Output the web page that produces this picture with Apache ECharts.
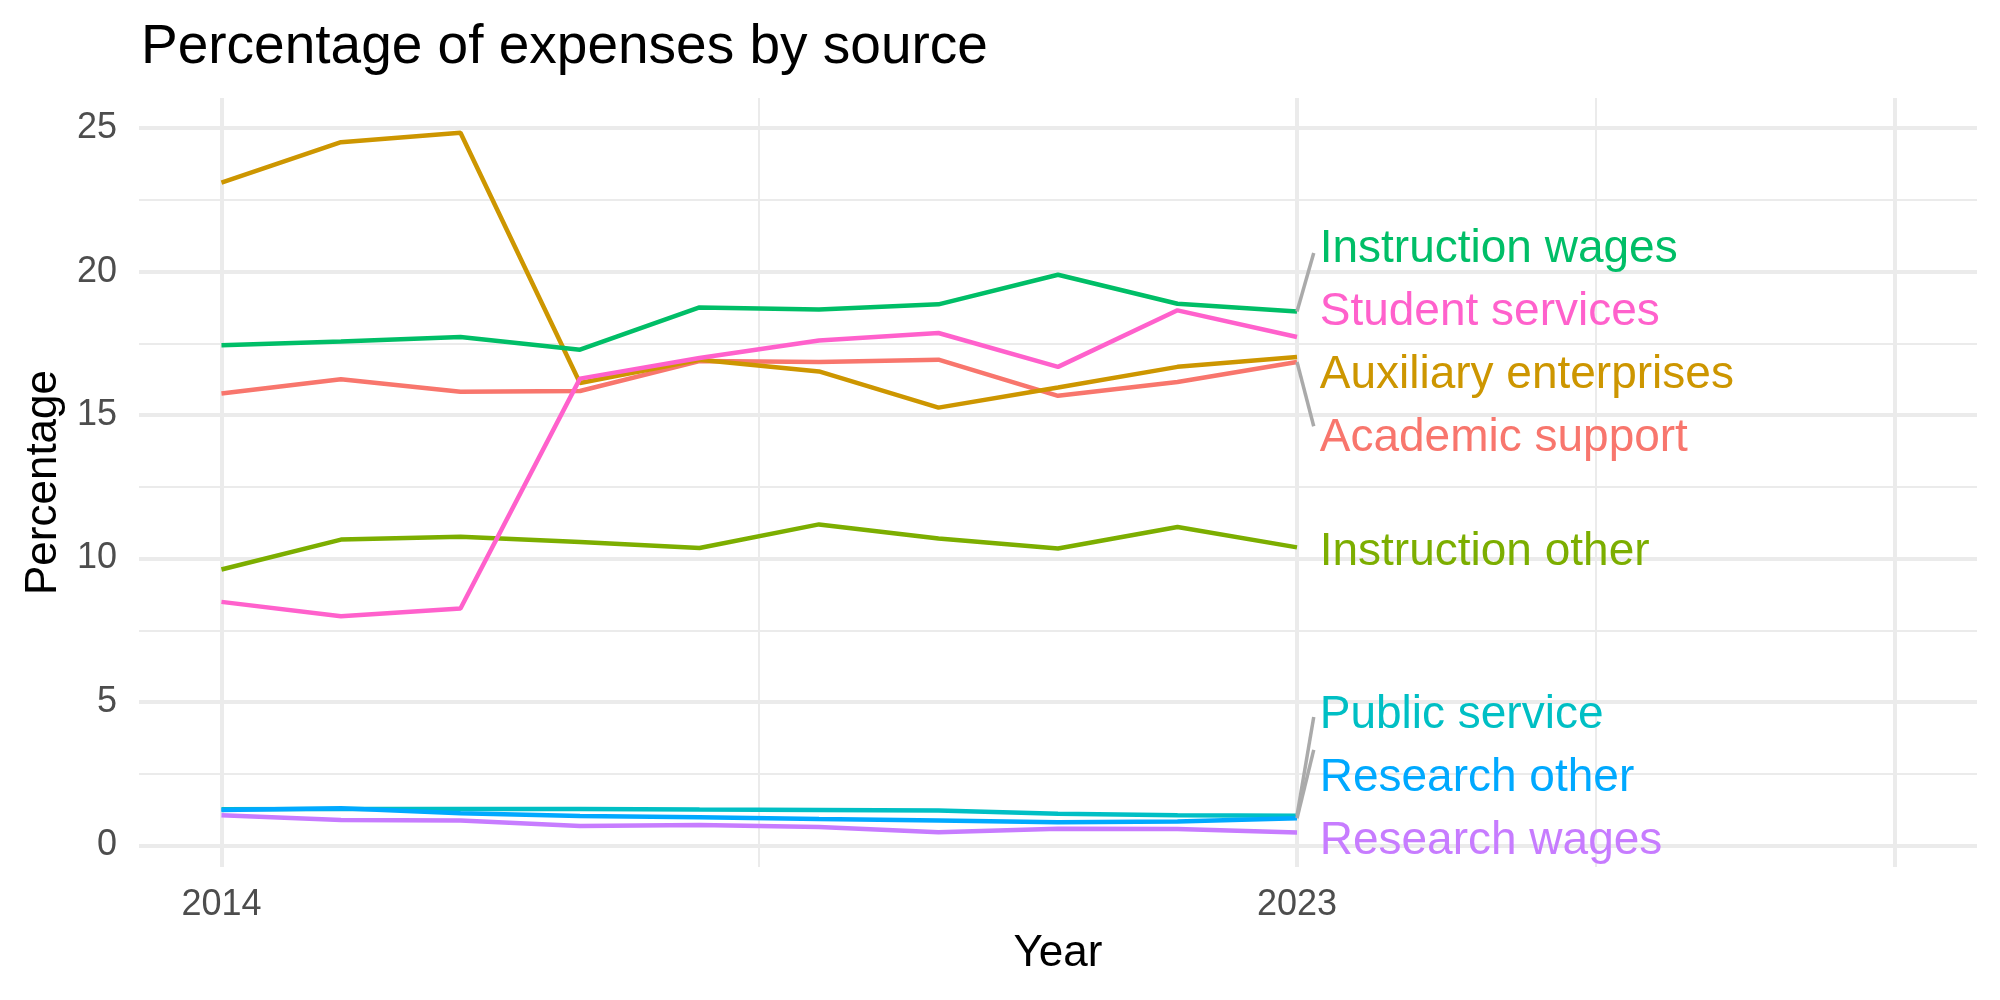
<!DOCTYPE html>
<html>
<head>
    <meta charset="utf-8" />
    <title>Percentage of expenses by source</title>
    <style>
        html, body { margin: 0; padding: 0; background: #ffffff; }
        #chart { width: 2000px; height: 1000px; }
    </style>
</head>
<body>
    <div id="chart"></div>
    <script src="https://cdn.jsdelivr.net/npm/echarts@6.0.0/dist/echarts.min.js"></script>
    <script type="text/javascript">
        // data
        var years = [2014, 2015, 2016, 2017, 2018, 2019, 2020, 2021, 2022, 2023];

        var academicSupport      = [15.75, 16.25, 15.81, 15.84, 16.88, 16.85, 16.93, 15.67, 16.15, 16.85];
        var auxiliaryEnterprises = [23.10, 24.51, 24.84, 16.12, 16.93, 16.52, 15.26, 15.96, 16.68, 17.02];
        var instructionOther     = [9.62, 10.66, 10.76, 10.58, 10.37, 11.19, 10.70, 10.35, 11.10, 10.39];
        var instructionWages     = [17.43, 17.56, 17.72, 17.28, 18.75, 18.68, 18.86, 19.89, 18.88, 18.61];
        var publicService        = [1.26, 1.27, 1.27, 1.27, 1.25, 1.24, 1.22, 1.11, 1.05, 1.04];
        var researchOther        = [1.24, 1.30, 1.12, 1.03, 0.98, 0.92, 0.87, 0.81, 0.84, 0.95];
        var researchWages        = [1.05, 0.89, 0.87, 0.68, 0.71, 0.64, 0.46, 0.58, 0.57, 0.45];
        var studentServices      = [8.49, 7.99, 8.26, 16.27, 16.99, 17.60, 17.86, 16.68, 18.65, 17.72];

        var names = ['Academic support', 'Auxiliary enterprises', 'Instruction other', 'Instruction wages',
                     'Public service', 'Research other', 'Research wages', 'Student services'];
        var values = [academicSupport, auxiliaryEnterprises, instructionOther, instructionWages,
                      publicService, researchOther, researchWages, studentServices];
        var colors = ['#F8766D', '#CD9600', '#7CAE00', '#00BE67', '#00BFC4', '#00A9FF', '#C77CFF', '#FF61CC'];

        // repelled label positions (y value of text) and leader end points (null = no leader)
        var labelY   = [14.19, 16.38, 10.21, 20.76, 4.52, 2.33, 0.14, 18.57];
        var leaderY  = [14.61, null, null, 20.65, 4.48, 3.33, null, null];
        var labelX = 2023.19;
        var leaderX = 2023.14;

        // ticks and grid
        var xTicks = [2014, 2023];
        var xMajor = [2014, 2023, 2028];
        var xMinor = [2018.5, 2025.5];
        var yTicks = [0, 5, 10, 15, 20, 25];
        var yMinor = [2.5, 7.5, 12.5, 17.5, 22.5];

        var FONT = "'Liberation Sans', Arial, Helvetica, sans-serif";
        var GRID = '#EBEBEB';

        var gridLines = [];
        xMajor.forEach(function (v) { gridLines.push({ xAxis: v, lineStyle: { width: 4 } }); });
        xMinor.forEach(function (v) { gridLines.push({ xAxis: v, lineStyle: { width: 2 } }); });
        yTicks.forEach(function (v) { gridLines.push({ yAxis: v, lineStyle: { width: 4 } }); });
        yMinor.forEach(function (v) { gridLines.push({ yAxis: v, lineStyle: { width: 2 } }); });

        var series = [{
            name: 'grid',
            type: 'line',
            data: [],
            z: 0,
            silent: true,
            markLine: {
                z: 0,
                silent: true,
                symbol: ['none', 'none'],
                animation: false,
                label: { show: false },
                emphasis: { disabled: true },
                lineStyle: { color: GRID, type: 'solid' },
                data: gridLines
            }
        }];

        // lines
        for (var i = 0; i < names.length; i++) {
            series.push({
                name: names[i],
                type: 'line',
                z: 2,
                symbol: 'none',
                color: colors[i],
                lineStyle: { width: 4.5, color: colors[i] },
                data: years.map(function (y, j) { return [y, values[i][j]]; })
            });
        }

        // leader segments
        for (var i = 0; i < names.length; i++) {
            if (leaderY[i] === null) continue;
            var last = values[i][values[i].length - 1];
            series.push({
                name: names[i] + ' leader',
                type: 'line',
                z: 3,
                symbol: 'none',
                lineStyle: { width: 3.5, color: '#AAAAAA' },
                data: [[2023, last], [leaderX, leaderY[i]]]
            });
        }

        // labels
        series.push({
            name: 'labels',
            type: 'scatter',
            z: 6,
            symbolSize: 0,
            itemStyle: { opacity: 1 },
            data: names.map(function (n, i) {
                return {
                    value: [labelX, labelY[i]],
                    label: {
                        show: true,
                        position: 'right',
                        distance: 0,
                        formatter: n,
                        color: colors[i],
                        fontSize: 46,
                        fontFamily: FONT
                    }
                };
            })
        });

        var myChart = echarts.init(document.getElementById('chart'), null, { renderer: 'canvas' });

        var option = {
            animation: false,
            backgroundColor: '#ffffff',
            title: {
                text: 'Percentage of expenses by source',
                left: 136,
                top: 15,
                textStyle: { fontFamily: FONT, fontSize: 55, fontWeight: 'normal', color: '#000000' }
            },
            grid: { left: 139, right: 23, top: 98, bottom: 133 },
            xAxis: {
                type: 'value',
                min: 2013.31,
                max: 2028.69,
                name: 'Year',
                nameLocation: 'middle',
                nameGap: 65,
                nameTextStyle: { fontFamily: FONT, fontSize: 44, color: '#000000' },
                axisLine: { show: false },
                axisTick: { show: false },
                splitLine: { show: false },
                axisLabel: {
                    customValues: xTicks,
                    fontFamily: FONT,
                    fontSize: 36,
                    color: '#4D4D4D',
                    margin: 20,
                    formatter: function (v) { return String(v); }
                }
            },
            yAxis: {
                type: 'value',
                min: -0.75,
                max: 26.05,
                name: 'Percentage',
                nameLocation: 'middle',
                nameGap: 68,
                nameTextStyle: { fontFamily: FONT, fontSize: 44, color: '#000000' },
                axisLine: { show: false },
                axisTick: { show: false },
                splitLine: { show: false },
                axisLabel: {
                    customValues: yTicks,
                    fontFamily: FONT,
                    fontSize: 36,
                    color: '#4D4D4D',
                    margin: 22
                }
            },
            series: series
        };

        myChart.setOption(option);
    </script>
</body>
</html>
